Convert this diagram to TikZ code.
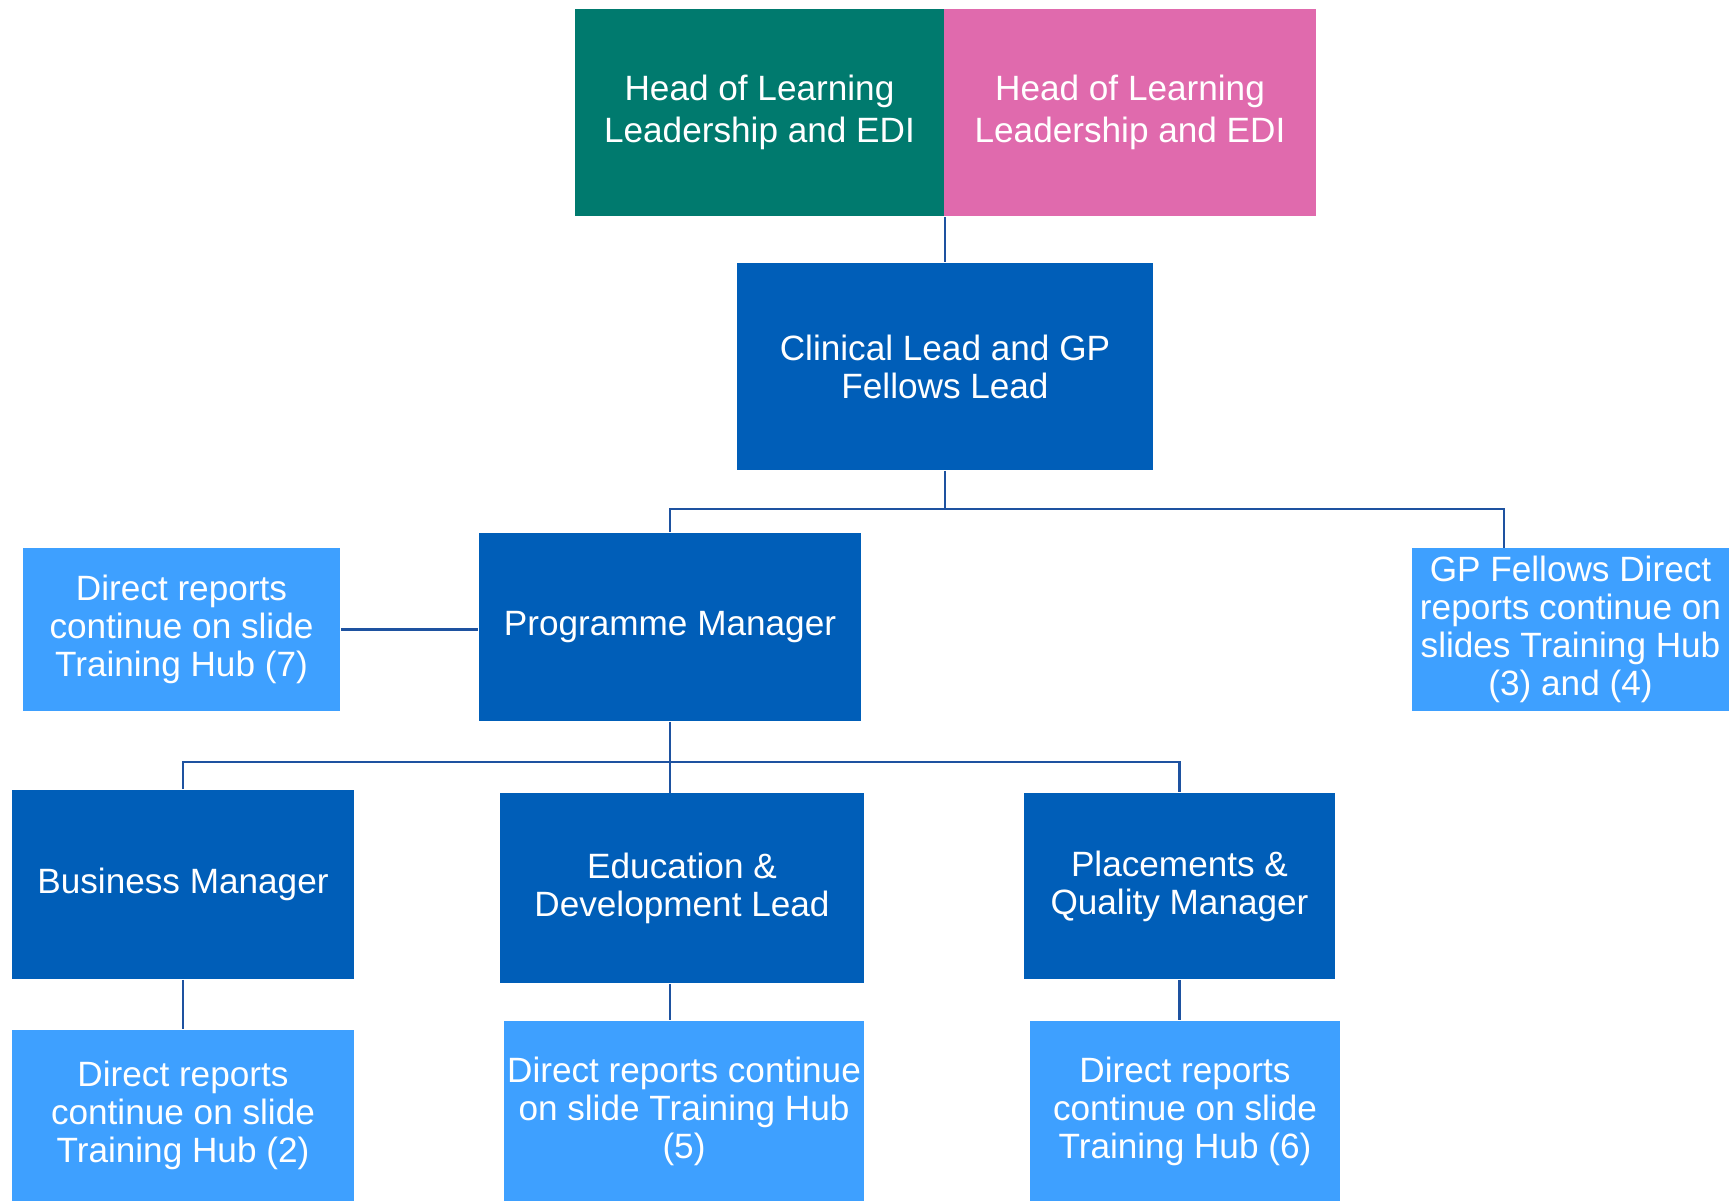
\documentclass[tikz,border=0pt]{standalone}
\usepackage{fontspec}
\setmainfont{Liberation Sans}
\usepackage{tikz}
\definecolor{teal}{RGB}{0,122,110}
\definecolor{pinkish}{RGB}{224,106,173}
\definecolor{nhsblue}{RGB}{0,94,184}
\definecolor{lightblue}{RGB}{62,160,255}
\definecolor{linkblue}{RGB}{30,82,160}

\begin{document}
\begin{tikzpicture}[x=0.01cm, y=-0.01cm,
    box/.style={inner sep=0pt, align=center, text=white, font=\fontsize{10}{10.8}\selectfont},
    headbox/.style={box, minimum height=2.07cm, font=\fontsize{10}{12}\selectfont},
    rolebox/.style={box, fill=nhsblue},
    notebox/.style={box, fill=lightblue},
    link/.style={draw=linkblue, line width=0.6pt}]
    \useasboundingbox (0,0) rectangle (1731,1201);
    % top row
    \node[headbox, fill=teal, minimum width=3.69cm] (hleft) at (759.5,112.5) {Head of Learning\\Leadership and EDI};
    \node[headbox, fill=pinkish, minimum width=3.72cm] (hright) at (1130,112.5) {Head of Learning\\Leadership and EDI};
    \node[rolebox, minimum width=4.15cm, minimum height=2.07cm] (clin) at (945,366.5) {Clinical Lead and GP\\Fellows Lead};
    % middle row
    \node[rolebox, minimum width=3.82cm, minimum height=1.88cm] (prog) at (670,627) {Programme Manager};
    \node[notebox, minimum width=3.17cm, minimum height=1.63cm] (dr7) at (181.5,629.5) {Direct reports\\continue on slide\\Training Hub (7)};
    \node[notebox, minimum width=3.17cm, minimum height=1.63cm] (gpf) at (1570.5,629.5) {GP Fellows Direct\\reports continue on\\slides Training Hub\\(3) and (4)};
    % managers
    \node[rolebox, minimum width=3.42cm, minimum height=1.89cm] (bus) at (183,884.5) {Business Manager};
    \node[rolebox, minimum width=3.64cm, minimum height=1.90cm] (edu) at (682,888) {Education \&\\Development Lead};
    \node[rolebox, minimum width=3.11cm, minimum height=1.86cm] (plq) at (1179.5,886) {Placements \&\\Quality Manager};
    % bottom row
    \node[notebox, minimum width=3.42cm, minimum height=1.71cm] (dr2) at (183,1115.5) {Direct reports\\continue on slide\\Training Hub (2)};
    \node[notebox, minimum width=3.60cm, minimum height=1.80cm] (dr5) at (684,1111) {Direct reports continue\\on slide Training Hub\\(5)};
    \node[notebox, minimum width=3.10cm, minimum height=1.80cm] (dr6) at (1185,1111) {Direct reports\\continue on slide\\Training Hub (6)};
    % connectors
    \coordinate (tier1) at (945,509);
    \coordinate (gpfin) at (1504,548);
    \coordinate (tier2) at (670,762);
    \coordinate (eduin) at (670,793);
    \draw[link] (hleft.south east) -- (clin.north -| hleft.south east);
    \draw[link] (clin.south) -- (tier1);
    \draw[link] (prog.north) |- (tier1) -| (gpfin);
    \draw[link] (dr7.east) -- (prog.west |- dr7.east);
    \draw[link] (prog.south) -- (eduin);
    \draw[link] (bus.north) |- (tier2) -| (plq.north);
    \draw[link] (bus.south) -- (dr2.north);
    \draw[link] (edu.south -| eduin) -- (dr5.north -| eduin);
    \draw[link] (plq.south) -- (dr6.north -| plq.south);
\end{tikzpicture}
\end{document}
